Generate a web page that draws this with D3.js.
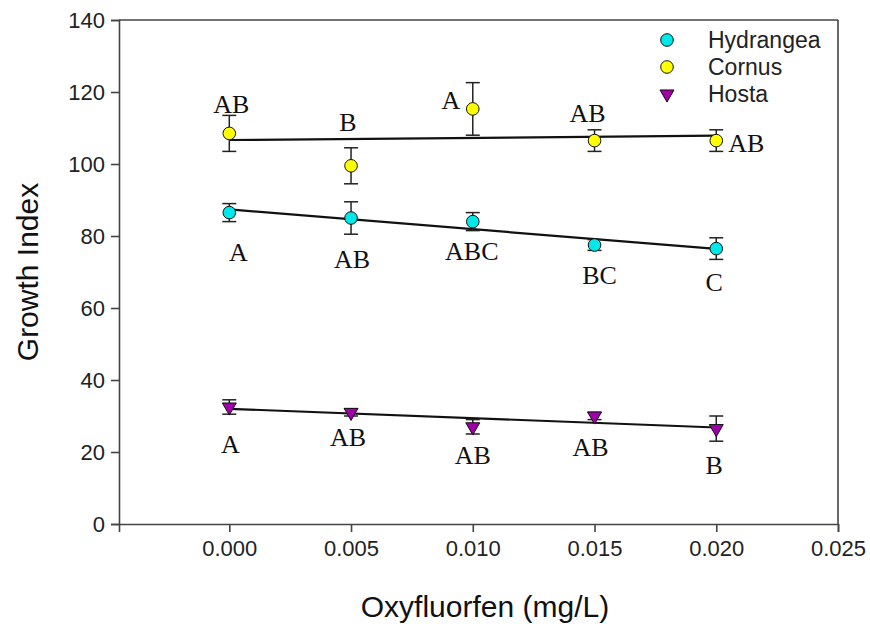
<!DOCTYPE html>
<html>
<head>
<meta charset="utf-8">
<script src="https://cdn.jsdelivr.net/npm/d3@7"></script>
<style>
  body { margin: 0; background: #fff; }
  svg text { font-family: Arial, "Liberation Sans", sans-serif; }
  .letter { font-family: "Liberation Serif", "Times New Roman", serif !important; }
</style>
</head>
<body>
<div id="chart"></div>
<script>
// concentrations (mg/L)
const doses = [0, 0.005, 0.010, 0.015, 0.020];

const hydrangeaMean = [86.5, 85, 84, 77.5, 76.5];
const hydrangeaErr = [2.5, 4.5, 2.5, 1.5, 3];
const hydrangeaLetters = ['A', 'AB', 'ABC', 'BC', 'C'];

const cornusMean = [108.5, 99.5, 115.3, 106.5, 106.5];
const cornusErr = [5, 5, 7.3, 3, 3];
const cornusLetters = ['AB', 'B', 'A', 'AB', 'AB'];

const hostaMean = [32.5, 31, 27, 30, 26.5];
const hostaErr = [2, 1, 2, 1, 3.5];
const hostaLetters = ['A', 'AB', 'AB', 'AB', 'B'];

const xTicks = [0, 0.005, 0.010, 0.015, 0.020, 0.025];
const yTicks = [0, 20, 40, 60, 80, 100, 120, 140];

// where each letter sits relative to its marker (px)
const hydrangeaLetterOffset = [[9, 39], [1, 41], [-1, 29], [5, 30], [-2, 33]];
const cornusLetterOffset = [[2, -30], [-3, -44], [-22, -9], [-7, -28], [30, 2]];
const hostaLetterOffset = [[1, 37], [-3, 24], [0, 28], [-4, 31], [-2, 36]];

const series = [
  { name: 'Hydrangea', mean: hydrangeaMean, err: hydrangeaErr, letters: hydrangeaLetters, off: hydrangeaLetterOffset, color: '#00e8e8', shape: 'circle' },
  { name: 'Cornus', mean: cornusMean, err: cornusErr, letters: cornusLetters, off: cornusLetterOffset, color: '#ffff00', shape: 'circle' },
  { name: 'Hosta', mean: hostaMean, err: hostaErr, letters: hostaLetters, off: hostaLetterOffset, color: '#a000a8', shape: 'triangle' }
];

const W = 870, H = 624;
const margin = { top: 20, right: 32, bottom: 100, left: 119 };
const width = W - margin.left - margin.right,
  height = H - margin.top - margin.bottom;

let svg = d3.select('#chart')
  .append('svg')
  .attr('width', W)
  .attr('height', H)
  .append('g')
  .attr('transform', 'translate(' + margin.left + ',' + margin.top + ')');

let x = d3.scaleLinear()
  .domain([-0.00453, 0.025])
  .range([0, width]);

let y = d3.scaleLinear()
  .domain([0, 140])
  .range([height, 0]);

// frame top and right
svg.append('line')
  .attr('x1', 0).attr('x2', width)
  .attr('y1', 0).attr('y2', 0)
  .attr('stroke', '#444').attr('stroke-width', 1.6);
svg.append('line')
  .attr('x1', width).attr('x2', width)
  .attr('y1', 0).attr('y2', height)
  .attr('stroke', '#444').attr('stroke-width', 1.6);

let xAxis = svg.append('g')
  .attr('transform', 'translate(0,' + height + ')')
  .call(d3.axisBottom(x).tickValues(xTicks).tickFormat(d3.format('.3f')).tickSize(8).tickPadding(8));

let yAxis = svg.append('g')
  .call(d3.axisLeft(y).tickValues(yTicks).tickSize(8).tickPadding(6));

[xAxis, yAxis].forEach(a => {
  a.select('.domain').attr('stroke', '#444').attr('stroke-width', 1.6);
  a.selectAll('.tick line').attr('stroke', '#444').attr('stroke-width', 1.6);
  a.selectAll('.tick text').style('font-size', '22px').attr('fill', '#222');
});

// least squares line per series
function fit(xs, ys) {
  let mx = d3.mean(xs), my = d3.mean(ys);
  let sxy = d3.sum(xs, (v, i) => (v - mx) * (ys[i] - my));
  let sxx = d3.sum(xs, v => (v - mx) * (v - mx));
  let b = sxy / sxx;
  return v => my + b * (v - mx);
}

const triangle = d3.symbol().type(d3.symbolTriangle).size(85);

series.forEach(s => {
  let f = fit(doses, s.mean);
  let ends = d3.extent(doses);

  svg.append('line')
    .attr('x1', x(ends[0])).attr('x2', x(ends[1]))
    .attr('y1', y(f(ends[0]))).attr('y2', y(f(ends[1])))
    .attr('stroke', '#111').attr('stroke-width', 2.2);

  let pts = svg.selectAll('g.pt-' + s.name)
    .data(doses.map((d, i) => ({ x: d, m: s.mean[i], e: s.err[i], l: s.letters[i], o: s.off[i] })))
    .enter()
    .append('g')
    .attr('class', 'pt-' + s.name);

  // error bars
  pts.append('line')
    .attr('x1', d => x(d.x)).attr('x2', d => x(d.x))
    .attr('y1', d => y(d.m - d.e)).attr('y2', d => y(d.m + d.e))
    .attr('stroke', '#222').attr('stroke-width', 1.5);
  pts.selectAll('line.cap')
    .data(d => [[d.x, d.m - d.e], [d.x, d.m + d.e]])
    .enter()
    .append('line')
    .attr('class', 'cap')
    .attr('x1', d => x(d[0]) - 7).attr('x2', d => x(d[0]) + 7)
    .attr('y1', d => y(d[1])).attr('y2', d => y(d[1]))
    .attr('stroke', '#222').attr('stroke-width', 1.5);

  // markers
  if (s.shape === 'circle') {
    pts.append('circle')
      .attr('cx', d => x(d.x)).attr('cy', d => y(d.m))
      .attr('r', 6.3)
      .attr('fill', s.color).attr('stroke', '#111').attr('stroke-width', 1);
  } else {
    pts.append('path')
      .attr('d', triangle)
      .attr('transform', d => 'translate(' + x(d.x) + ',' + y(d.m) + ') rotate(180)')
      .attr('fill', s.color).attr('stroke', '#111').attr('stroke-width', 1);
  }

  // significance letters
  pts.append('text')
    .attr('class', 'letter')
    .attr('x', d => x(d.x) + d.o[0])
    .attr('y', d => y(d.m) + d.o[1])
    .attr('dy', '0.35em')
    .style('text-anchor', 'middle')
    .style('font-size', '26px')
    .attr('fill', '#111')
    .text(d => d.l);
});

// legend
let legend = svg.selectAll('g.legend')
  .data(series)
  .enter()
  .append('g')
  .attr('class', 'legend')
  .attr('transform', (d, i) => 'translate(' + (667 - margin.left) + ',' + (40 + i * 27 - margin.top) + ')');

legend.each(function (d) {
  let g = d3.select(this);
  if (d.shape === 'circle') {
    g.append('circle').attr('r', 6.3).attr('fill', d.color).attr('stroke', '#111').attr('stroke-width', 1);
  } else {
    g.append('path').attr('d', triangle).attr('transform', 'rotate(180)')
      .attr('fill', d.color).attr('stroke', '#111').attr('stroke-width', 1);
  }
  g.append('text')
    .attr('x', 41)
    .attr('dy', '0.35em')
    .style('font-size', '23px')
    .attr('fill', '#222')
    .text(d.name);
});

// axis titles
svg.append('text')
  .attr('x', x(0.0105))
  .attr('y', 586)
  .attr('dy', '0.35em')
  .style('text-anchor', 'middle')
  .style('font-size', '30px')
  .attr('fill', '#111')
  .text('Oxyfluorfen (mg/L)');

svg.append('text')
  .attr('transform', 'translate(' + (27 - margin.left) + ',' + (272 - margin.top) + ') rotate(-90)')
  .attr('dy', '0.35em')
  .style('text-anchor', 'middle')
  .style('font-size', '30px')
  .attr('fill', '#111')
  .text('Growth Index');
</script>
</body>
</html>
